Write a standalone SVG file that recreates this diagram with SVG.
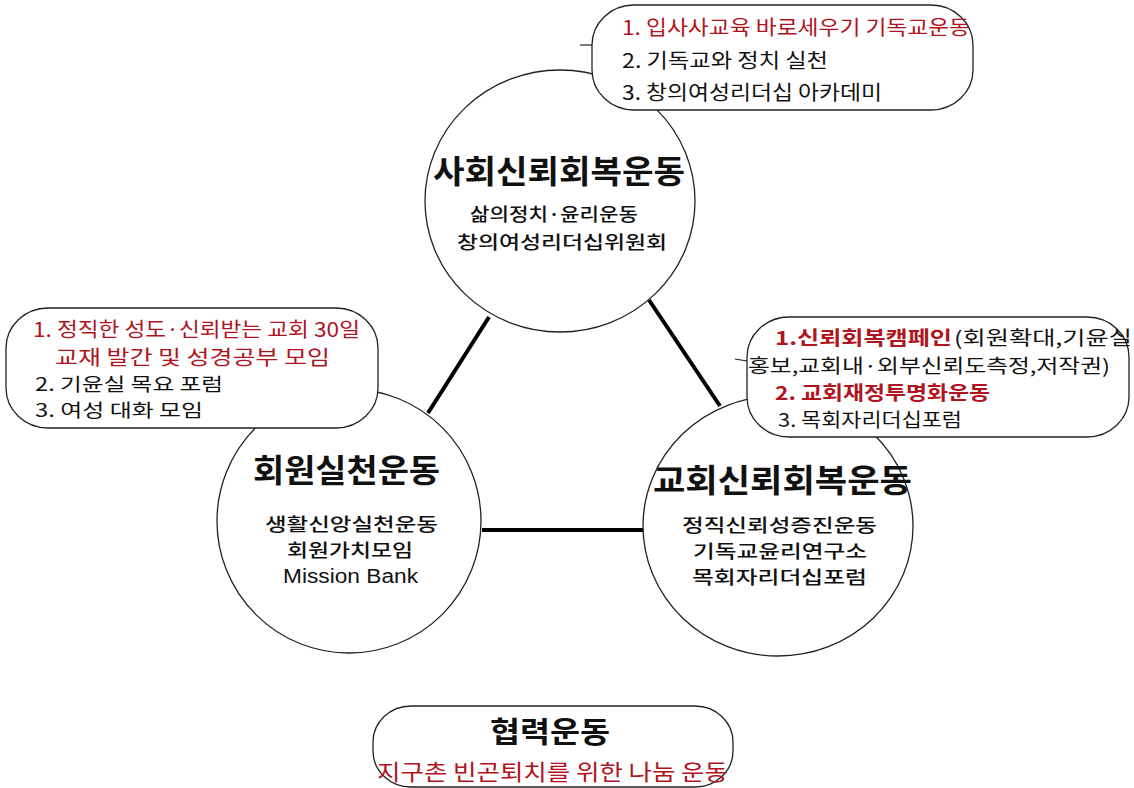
<svg xmlns="http://www.w3.org/2000/svg" width="1134" height="788" viewBox="0 0 1134 788">
<style>
.circ{fill:#fff;stroke:#222;stroke-width:1.3}
.call{fill:#fff;stroke:#222;stroke-width:1.3}
.conn{stroke:#000;stroke-width:4;fill:none}
.tick{stroke:#222;stroke-width:1.2}
text{font-family:"Noto Sans CJK KR","Liberation Sans",sans-serif;fill:#111}
.title{font-size:32px;font-weight:700}
.sub{font-size:18px;font-weight:500}
.item{font-size:19px;font-weight:400}
.red{fill:#b01420}
.eng{font-family:"Liberation Sans","DejaVu Sans",sans-serif;font-size:20px}
</style>
<rect width="1134" height="788" fill="#fff"/>
<g id="connectors">
<line class="conn" x1="489" y1="317" x2="428" y2="413"/>
<line class="conn" x1="649" y1="300" x2="720" y2="406"/>
<line class="conn" x1="482" y1="530" x2="643" y2="530"/>
</g>
<g id="node-social">
<ellipse class="circ" cx="560" cy="201" rx="135" ry="131"/>
<text class="title" x="433" y="183" textLength="252" lengthAdjust="spacingAndGlyphs">사회신뢰회복운동</text>
<text class="sub" x="470" y="221" textLength="168" lengthAdjust="spacingAndGlyphs">삶의정치·윤리운동</text>
<text class="sub" x="457" y="249" textLength="210" lengthAdjust="spacingAndGlyphs">창의여성리더십위원회</text>
</g>
<g id="node-member">
<ellipse class="circ" cx="349" cy="521" rx="132" ry="132"/>
<text class="title" x="253" y="482" textLength="187" lengthAdjust="spacingAndGlyphs">회원실천운동</text>
<text class="sub" x="265" y="531" textLength="173" lengthAdjust="spacingAndGlyphs">생활신앙실천운동</text>
<text class="sub" x="287" y="557" textLength="126" lengthAdjust="spacingAndGlyphs">회원가치모임</text>
<text class="eng" x="283" y="583" textLength="135" lengthAdjust="spacingAndGlyphs">Mission Bank</text>
</g>
<g id="node-church">
<ellipse class="circ" cx="778" cy="526" rx="135" ry="130"/>
<text class="title" x="653" y="492" textLength="259" lengthAdjust="spacingAndGlyphs">교회신뢰회복운동</text>
<text class="sub" x="682" y="532" textLength="195" lengthAdjust="spacingAndGlyphs">정직신뢰성증진운동</text>
<text class="sub" x="693" y="558" textLength="174" lengthAdjust="spacingAndGlyphs">기독교윤리연구소</text>
<text class="sub" x="692" y="584" textLength="175" lengthAdjust="spacingAndGlyphs">목회자리더십포럼</text>
</g>
<g id="callout-social">
<rect class="call" x="592" y="5" width="381" height="105" rx="42" ry="40"/>
<line class="tick" x1="580" y1="45" x2="592" y2="45"/>
<text class="item red" x="622" y="35" style="font-size:20px" textLength="348" lengthAdjust="spacingAndGlyphs">1. 입사사교육 바로세우기 기독교운동</text>
<text class="item" x="622" y="68" style="font-size:20px" textLength="206" lengthAdjust="spacingAndGlyphs">2. 기독교와 정치 실천</text>
<text class="item" x="622" y="100" style="font-size:20px" textLength="260" lengthAdjust="spacingAndGlyphs">3. 창의여성리더십 아카데미</text>
</g>
<g id="callout-member">
<rect class="call" x="6" y="308" width="372" height="120" rx="42" ry="40"/>
<text class="item red" x="33" y="337" style="font-size:20px" textLength="327" lengthAdjust="spacingAndGlyphs">1. 정직한 성도·신뢰받는 교회 30일</text>
<text class="item red" x="55" y="365" style="font-size:20px" textLength="275" lengthAdjust="spacingAndGlyphs">교재 발간 및 성경공부 모임</text>
<text class="item" x="35" y="391" style="font-size:18px" textLength="188" lengthAdjust="spacingAndGlyphs">2. 기윤실 목요 포럼</text>
<text class="item" x="35" y="417" style="font-size:18px" textLength="168" lengthAdjust="spacingAndGlyphs">3. 여성 대화 모임</text>
</g>
<g id="callout-church">
<rect class="call" x="747" y="317" width="382" height="120" rx="42" ry="40"/>
<line class="tick" x1="735" y1="359" x2="747" y2="361"/>
<text class="item red" x="775" y="345" style="font-weight:700" textLength="177" lengthAdjust="spacingAndGlyphs">1.신뢰회복캠페인</text>
<text class="item" x="954" y="345" textLength="178" lengthAdjust="spacingAndGlyphs">(회원확대,기윤실</text>
<text class="item" x="748" y="373" textLength="362" lengthAdjust="spacingAndGlyphs">홍보,교회내·외부신뢰도측정,저작권)</text>
<text class="item red" x="775" y="400" style="font-weight:700" textLength="215" lengthAdjust="spacingAndGlyphs">2. 교회재정투명화운동</text>
<text class="item" x="778" y="427" textLength="184" lengthAdjust="spacingAndGlyphs">3. 목회자리더십포럼</text>
</g>
<g id="node-cooperation">
<rect class="call" x="373" y="706" width="360" height="81" rx="38" ry="36"/>
<text class="title" x="490" y="743" style="font-size:29px" textLength="120" lengthAdjust="spacingAndGlyphs">협력운동</text>
<text class="item red" x="377" y="780" style="font-size:22px" textLength="351" lengthAdjust="spacingAndGlyphs">지구촌 빈곤퇴치를 위한 나눔 운동</text>
</g>
</svg>
